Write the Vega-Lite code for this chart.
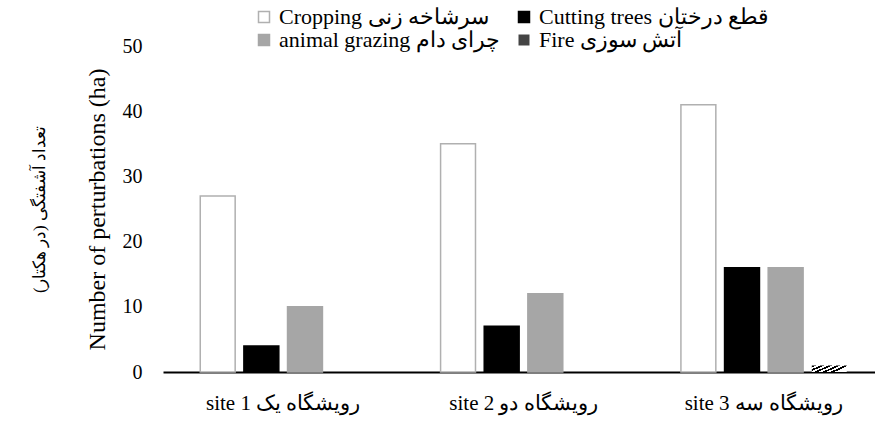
{
  "$schema": "https://vega.github.io/schema/vega-lite/v6.json",
  "autosize": {"type": "none"},
  "width": 712,
  "height": 326,
  "padding": {"left": 163, "top": 46, "right": 0, "bottom": 51},
  "background": "white",
  "config": {"view": {"stroke": null}, "font": "Liberation Serif"},
  "data": {"values": [
    {"site": "site 1 رویشگاه یک", "type": "Cropping سرشاخه زنی", "value": 27},
    {"site": "site 1 رویشگاه یک", "type": "Cutting trees  قطع درختان", "value": 4},
    {"site": "site 1 رویشگاه یک", "type": "animal grazing چرای دام", "value": 10},
    {"site": "site 1 رویشگاه یک", "type": "Fire آتش سوزی", "value": 0},
    {"site": "site 2 رویشگاه دو", "type": "Cropping سرشاخه زنی", "value": 35},
    {"site": "site 2 رویشگاه دو", "type": "Cutting trees  قطع درختان", "value": 7},
    {"site": "site 2 رویشگاه دو", "type": "animal grazing چرای دام", "value": 12},
    {"site": "site 2 رویشگاه دو", "type": "Fire آتش سوزی", "value": 0},
    {"site": "site 3 رویشگاه سه", "type": "Cropping سرشاخه زنی", "value": 41},
    {"site": "site 3 رویشگاه سه", "type": "Cutting trees  قطع درختان", "value": 16},
    {"site": "site 3 رویشگاه سه", "type": "animal grazing چرای دام", "value": 16},
    {"site": "site 3 رویشگاه سه", "type": "Fire آتش سوزی", "value": 1}
  ]},
  "resolve": {"axis": {"y": "independent"}},
  "layer": [
    {
      "mark": {"type": "bar", "strokeWidth": 1.5},
      "encoding": {
        "x": {"field": "site", "type": "nominal", "sort": null,
          "scale": {"range": [0, 721], "paddingInner": 0.31, "paddingOuter": 0.155},
          "axis": {"title": null, "labelAngle": 0, "labelFont": "Liberation Serif", "labelFontSize": 21, "labelColor": "black", "labelPadding": 20, "labelDx": -8, "ticks": false, "domainColor": "black", "domainWidth": 2, "labelLimit": 300}},
        "xOffset": {"field": "type", "type": "nominal",
          "scale": {"domain": ["Cropping سرشاخه زنی", "Cutting trees  قطع درختان", "animal grazing چرای دام", "Fire آتش سوزی"], "paddingInner": 0.2, "paddingOuter": 0}},
        "y": {"field": "value", "type": "quantitative",
          "scale": {"domain": [0, 50]},
          "axis": {"title": "Number of perturbations (ha)", "titleFont": "Liberation Serif", "titleFontSize": 24, "titleFontWeight": "normal", "titleColor": "black", "titlePadding": 13, "values": [0, 10, 20, 30, 40, 50], "labelFont": "Liberation Serif", "labelFontSize": 20, "labelColor": "black", "labelPadding": 21, "ticks": false, "domain": false, "grid": false}},
        "fill": {"field": "type", "type": "nominal",
          "condition": {"test": "datum.type === 'Fire آتش سوزی'", "value": {"gradient": "linear", "x1": 0, "y1": 0, "x2": 1, "y2": 0.4, "stops": [
            {"offset": 0, "color": "black"}, {"offset": 0.1, "color": "black"}, {"offset": 0.1, "color": "white"}, {"offset": 0.2, "color": "white"},
            {"offset": 0.2, "color": "black"}, {"offset": 0.3, "color": "black"}, {"offset": 0.3, "color": "white"}, {"offset": 0.4, "color": "white"},
            {"offset": 0.4, "color": "black"}, {"offset": 0.5, "color": "black"}, {"offset": 0.5, "color": "white"}, {"offset": 0.6, "color": "white"},
            {"offset": 0.6, "color": "black"}, {"offset": 0.7, "color": "black"}, {"offset": 0.7, "color": "white"}, {"offset": 0.8, "color": "white"},
            {"offset": 0.8, "color": "black"}, {"offset": 0.9, "color": "black"}, {"offset": 0.9, "color": "white"}, {"offset": 1, "color": "white"}]}},
          "scale": {"domain": ["Cropping سرشاخه زنی", "Cutting trees  قطع درختان", "animal grazing چرای دام", "Fire آتش سوزی"], "range": ["white", "black", "#a6a6a6", "#444444"]},
          "legend": {"title": null, "orient": "none", "legendX": 90, "legendY": -40, "columns": 2, "direction": "horizontal",
            "symbolType": "square", "symbolSize": 121,
            "labelFont": "Liberation Serif", "labelFontSize": 22, "labelColor": "black", "labelLimit": 400, "labelOffset": 4,
            "columnPadding": 12, "rowPadding": 1}},
        "stroke": {"field": "type", "type": "nominal",
          "scale": {"domain": ["Cropping سرشاخه زنی", "Cutting trees  قطع درختان", "animal grazing چرای دام", "Fire آتش سوزی"], "range": ["#b0b0b0", "black", "#a6a6a6", "transparent"]},
          "legend": {"title": null, "orient": "none", "legendX": 90, "legendY": -40, "columns": 2, "direction": "horizontal",
            "symbolType": "square", "symbolSize": 121,
            "labelFont": "Liberation Serif", "labelFontSize": 22, "labelColor": "black", "labelLimit": 400, "labelOffset": 4,
            "columnPadding": 12, "rowPadding": 1}}
      }
    },
    {
      "mark": {"type": "point", "opacity": 0},
      "encoding": {
        "y": {"field": "value", "type": "quantitative",
          "axis": {"orient": "left", "title": "تعداد آشفتگی (در هکتار)", "titleFont": "Liberation Serif", "titleFontSize": 17, "titleFontWeight": "normal", "titleColor": "black", "titlePadding": 115, "labels": false, "ticks": false, "domain": false, "grid": false}}
      }
    }
  ]
}
